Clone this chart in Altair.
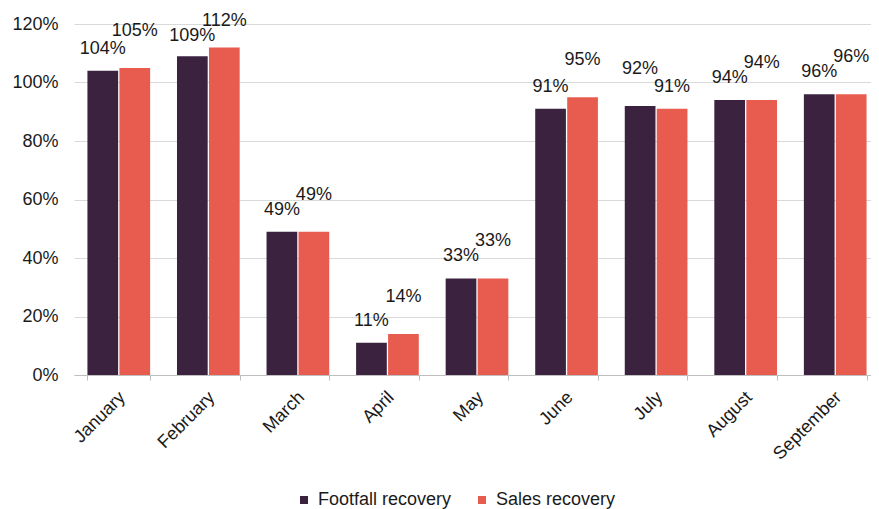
import altair as alt
import pandas as pd

months = ["January", "February", "March", "April", "May", "June", "July", "August", "September"]
footfall = [104, 109, 49, 11, 33, 91, 92, 94, 96]
sales = [105, 112, 49, 14, 33, 95, 91, 94, 96]
series_names = ["Footfall recovery", "Sales recovery"]
colors = ["#3b2340", "#e85c4f"]
y_ticks = [0, 20, 40, 60, 80, 100, 120]

rows = []
for i, m in enumerate(months):
    f, s = footfall[i], sales[i]
    rows.append({"month": m, "series": series_names[0], "value": f, "high": f > s})
    rows.append({"month": m, "series": series_names[1], "value": s, "high": s >= f})
df = pd.DataFrame(rows)

FONT = "Liberation Sans"
FS = 18

x_enc = alt.X("month:N", sort=months,
              scale=alt.Scale(paddingInner=0.3, paddingOuter=0.15),
              axis=alt.Axis(title=None, labelAngle=-45, labelFontSize=FS, labelColor="#1a1a1a",
                            labelFont=FONT, domainColor="#bfbfbf", tickColor="#bfbfbf",
                            tickBand="extent", tickSize=5, grid=False, labelPadding=8,
                            labelOffset=-3))
xoff = alt.XOffset("series:N", sort=series_names, scale=alt.Scale(paddingInner=0.04))
y_enc = alt.Y("value:Q", scale=alt.Scale(domain=[0, 120], nice=False),
              axis=alt.Axis(title=None, values=y_ticks, labelExpr="datum.value + '%'",
                            labelFontSize=FS, labelColor="#1a1a1a", labelFont=FONT,
                            domain=False, ticks=False, labelPadding=16,
                            gridColor="#d9d9d9", gridWidth=1))
color_enc = alt.Color("series:N", sort=series_names,
                      scale=alt.Scale(domain=series_names, range=colors),
                      legend=alt.Legend(title=None, orient="none", direction="horizontal",
                                        legendX=221, legendY=467, symbolType="square",
                                        symbolSize=64, labelFontSize=FS, labelFont=FONT,
                                        labelColor="#1a1a1a", columnPadding=21,
                                        labelOffset=5, symbolStrokeWidth=0))

base = alt.Chart(df)
bars = base.mark_bar().encode(x=x_enc, xOffset=xoff, y=y_enc, color=color_enc)


def labels(flt, dy):
    return base.transform_filter(flt).transform_calculate(
        label="datum.value + '%'", ly="min(datum.value, 108.5)"
    ).mark_text(
        baseline="middle", align="center", dy=dy, fontSize=FS, font=FONT, color="#1a1a1a"
    ).encode(x=alt.X("month:N", sort=months),
             xOffset=alt.XOffset("series:N", sort=series_names),
             y="ly:Q", text=alt.Text("label:N"))


chart = alt.layer(bars, labels("!datum.high", -22), labels("datum.high", -37)).properties(
    width=806, height=351,
    autosize=alt.AutoSizeParams(type="none"),
    padding={"left": 66, "top": 16, "right": -9, "bottom": 134},
).configure_view(stroke=None)

chart.save("out.html", embed_options={"renderer": "svg", "actions": False})
